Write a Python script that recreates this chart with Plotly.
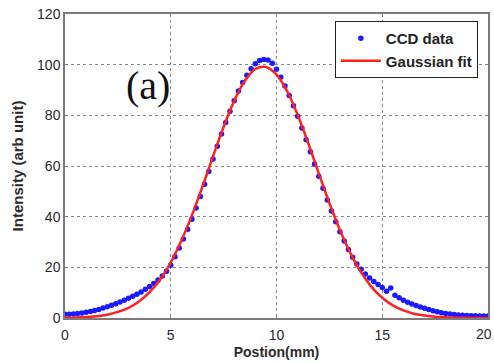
import plotly.graph_objects as go

# CCD measured data (position in mm, intensity in arb. unit)
ccd_x = [round(i * 0.2, 1) for i in range(101)]
ccd_y = [
    1.5, 1.5, 1.6, 1.8, 2.0, 2.3, 2.6, 3.0, 3.4, 3.9,
    4.4, 5.0, 5.6, 6.3, 7.0, 7.8, 8.6, 9.4, 10.3, 11.3,
    12.4, 13.6, 15.0, 16.6, 18.5, 20.8, 24.2, 27.6, 31.2, 35.0,
    39.0, 43.4, 48.0, 52.8, 57.8, 62.8, 67.8, 72.6, 77.2, 81.6,
    85.8, 89.6, 93.0, 95.8, 98.4, 100.4, 101.6, 102.0, 101.8, 100.6,
    98.2, 95.0, 91.6, 87.8, 83.8, 79.6, 75.0, 70.4, 65.6, 60.8,
    56.0, 51.2, 46.6, 42.2, 38.0, 34.0, 30.4, 27.0, 24.0, 21.3,
    19.2, 17.4, 15.8, 14.4, 13.2, 12.0, 10.6, 11.8, 9.0, 8.0,
    7.0, 6.2, 5.5, 4.9, 4.3, 3.8, 3.4, 2.9, 2.5, 2.1,
    1.8, 1.6, 1.4, 1.2, 1.1, 1.0, 0.9, 0.9, 0.8, 0.8,
    0.8,
]

# Gaussian fit curve
fit_x = [i * 0.5 for i in range(41)]
fit_y = [
    0.1, 0.2, 0.4, 0.7, 1.3, 2.4, 4.0, 6.5, 10.2, 15.2,
    21.9, 30.5, 40.5, 51.9, 63.8, 75.4, 85.7, 93.6, 98.3, 99.1,
    96.1, 89.6, 80.2, 69.0, 57.1, 45.4, 34.7, 25.5, 18.0, 12.2,
    8.0, 5.0, 3.0, 1.7, 1.0, 0.5, 0.3, 0.1, 0.1, 0.0,
    0.0,
]

x_ticks = [0, 5, 10, 15, 20]
y_ticks = [0, 20, 40, 60, 80, 100, 120]

fig = go.Figure()
fig.add_trace(go.Scatter(
    x=ccd_x, y=ccd_y, mode="markers", name="CCD data",
    marker=dict(color="#1a1aff", size=5.5, line=dict(width=0)),
))
fig.add_trace(go.Scatter(
    x=fit_x, y=fit_y, mode="lines", name="Gaussian fit",
    line=dict(color="#ff2020", width=2.5, shape="spline"),
))

fig.add_annotation(
    x=0.196, y=0.766, xref="paper", yref="paper",
    xanchor="center", yanchor="middle",
    text="(a)", showarrow=False,
    font=dict(family="Liberation Serif", size=40, color="#111"),
)

tick_font = dict(family="Liberation Sans", size=14, color="#2a2a2a")

# the last x tick label sits at the page edge; nudge it so it stays visible
fig.add_annotation(
    x=x_ticks[-1], y=0, xref="x", yref="paper",
    xanchor="center", yanchor="top", yshift=-6, xshift=-4,
    text=str(x_ticks[-1]), showarrow=False, font=tick_font,
)

axis_common = dict(
    showgrid=True, gridcolor="#8a8a8a", griddash="dot", gridwidth=1,
    showline=True, mirror=True, linecolor="#7a7a7a", linewidth=1.5,
    zeroline=False, ticks="inside", ticklen=3, tickcolor="#7a7a7a",
    tickfont=tick_font,
    automargin=False,
)

fig.update_xaxes(
    range=[0, 20], tickvals=x_ticks, ticklabelstandoff=3,
    title=dict(text="<b>Postion(mm)</b>", standoff=6,
               font=dict(family="Liberation Sans", size=14, color="#2a2a2a")),
    **axis_common,
)
fig.update_yaxes(
    range=[0, 120], tickvals=y_ticks,
    title=dict(text="<b>Intensity (arb unit)</b>", standoff=10,
               font=dict(family="Liberation Sans", size=15, color="#2a2a2a")),
    **axis_common,
)

fig.update_layout(
    width=494, height=363,
    margin=dict(l=65, r=6, t=14, b=45),
    paper_bgcolor="white", plot_bgcolor="white",
    showlegend=True,
    legend=dict(
        x=0.638, y=0.977, xanchor="left", yanchor="top",
        bgcolor="white", bordercolor="#222", borderwidth=1,
        font=dict(family="Liberation Sans", size=15, color="#222", weight="bold"),
        tracegroupgap=0, itemwidth=40,
    ),
)

fig.write_html("out.html")
